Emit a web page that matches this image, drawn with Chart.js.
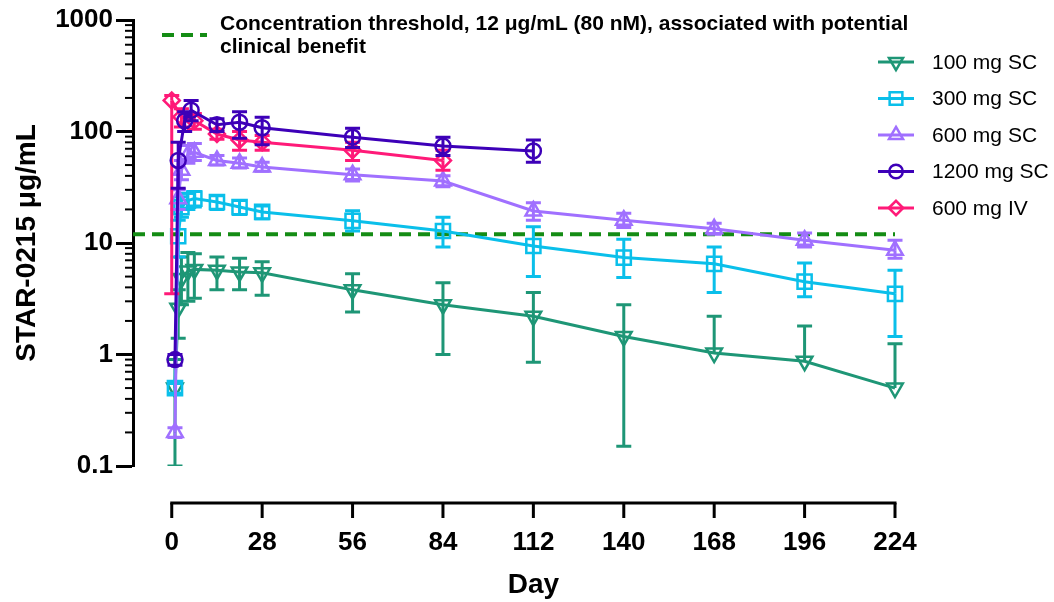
<!DOCTYPE html>
<html>
<head>
<meta charset="utf-8">
<script src="https://cdn.jsdelivr.net/npm/chart.js@4.4.1/dist/chart.umd.min.js"></script>
<style>
  html, body { margin: 0; padding: 0; background: #fff; }
  #wrap { width: 1054px; height: 602px; }
</style>
</head>
<body>
<div id="wrap"><canvas id="pkChart" width="1054" height="602"></canvas></div>
<script>
// x ticks (days) and y ticks (log)
const dayTicks = [0, 28, 56, 84, 112, 140, 168, 196, 224];
const concTicks = [0.1, 1, 10, 100, 1000];
const threshold = 12;

// 100 mg SC
const days100 = [1, 2, 3, 5, 7, 14, 21, 28, 56, 84, 112, 140, 168, 196, 224];
const mean100 = [0.5, 2.6, 4.8, 5.6, 5.8, 5.7, 5.5, 5.4, 3.8, 2.8, 2.2, 1.45, 1.03, 0.87, 0.5];
const low100  = [0.1, 1.4, 2.8, 3.0, 3.2, 3.8, 3.8, 3.4, 2.4, 1.0, 0.85, 0.15, null, null, null];
const high100 = [0.9, 3.8, 7.5, 8.2, 8.0, 7.5, 7.3, 6.8, 5.3, 4.4, 3.6, 2.8, 2.2, 1.8, 1.25];

// 300 mg SC
const days300 = [1, 2, 3, 5, 7, 14, 21, 28, 56, 84, 112, 140, 168, 196, 224];
const mean300 = [0.5, 11.5, 21, 24, 25, 23.3, 21, 19, 15.8, 12.8, 9.4, 7.4, 6.5, 4.5, 3.5];
const low300  = [0.45, 7.5, 17, 20, 21, 20, 18, 16.5, 12.8, 9.2, 5.0, 4.9, 3.6, 3.3, 1.45];
const high300 = [0.55, 16, 26, 28, 29, 26.5, 24, 21.5, 19.5, 17, 14, 10.8, 9.2, 6.6, 5.7];

// 600 mg SC
const days600 = [1, 2, 3, 5, 7, 14, 21, 28, 56, 84, 112, 140, 168, 196, 224];
const mean600 = [0.2, 25, 45, 62, 65, 55, 52, 48, 41, 36, 19.4, 16, 13.4, 10.6, 8.6];
const low600  = [0.18, 20, 37, 52, 55, 50, 47, 44, 36, 32, 16, 13.8, 12, 9.2, 7.3];
const high600 = [0.22, 30, 55, 75, 78, 61, 58, 53, 46, 40, 23, 18.5, 15, 12.3, 10.6];

// 1200 mg SC
const days1200 = [1, 2, 4, 6, 14, 21, 28, 56, 84, 112];
const mean1200 = [0.9, 55, 125, 155, 115, 121, 108, 89, 74, 67];
const low1200  = [0.8, 31, 100, 125, 100, 87, 76, 72, 61, 53];
const high1200 = [1.0, 80, 150, 190, 130, 150, 134, 107, 89, 84];

// 600 mg IV
const daysIV = [0, 3, 7, 14, 21, 28, 56, 84];
const meanIV = [190, 135, 125, 95, 84, 80, 68, 55];
const lowIV  = [3.5, 110, 105, 85, 68, 68, 55, 45];
const highIV = [210, 160, 145, 105, 100, 92, 80, 68];

function pts(xs, ys) {
  return xs.map((d, i) => ({ x: d, y: ys[i] }));
}

function series(label, color, style, rotation, radius, xs, ys, lo, hi, order) {
  return {
    label: label,
    data: pts(xs, ys),
    errLow: lo,
    errHigh: hi,
    borderColor: color,
    backgroundColor: 'rgba(0,0,0,0)',
    borderWidth: 3,
    pointStyle: style,
    pointRotation: rotation,
    pointRadius: radius,
    pointBorderWidth: 2.5,
    pointBackgroundColor: 'rgba(0,0,0,0)',
    pointBorderColor: color,
    tension: 0,
    clip: { left: 0, top: 12, right: 14, bottom: 12 },
    order: order
  };
}

const sets = [
  series('100 mg SC', '#1e9676', 'triangle', 180, 9, days100, mean100, low100, high100, 5),
  series('300 mg SC', '#0abfea', 'rect', 0, 10, days300, mean300, low300, high300, 4),
  series('600 mg SC', '#a070ff', 'triangle', 0, 9, days600, mean600, low600, high600, 3),
  series('1200 mg SC', '#3d00b8', 'circle', 0, 7.5, days1200, mean1200, low1200, high1200, 1),
  series('600 mg IV', '#ff1a78', 'rectRot', 0, 8, daysIV, meanIV, lowIV, highIV, 2)
];

const thresholdSet = {
  label: 'threshold',
  data: [{ x: -12, y: threshold }, { x: 224, y: threshold }],
  borderColor: '#148c14',
  borderWidth: 4,
  borderDash: [12, 7],
  pointRadius: 0,
  order: 6
};

// error bars, drawn under each dataset's own line and markers
const errorBars = {
  id: 'errorBars',
  beforeDatasetDraw(chart, args) {
    const ds = chart.data.datasets[args.index];
    if (!ds.errLow) return;
    const xs = chart.scales.x, ys = chart.scales.y;
    const ctx = chart.ctx;
    ctx.save();
    ctx.beginPath();
    ctx.rect(chart.chartArea.left, chart.chartArea.top - 10, chart.chartArea.width + 14, chart.chartArea.height + 10);
    ctx.clip();
    ctx.strokeStyle = ds.borderColor;
    ctx.lineWidth = 3;
    ds.data.forEach((p, i) => {
      const px = xs.getPixelForValue(p.x);
      const py = ys.getPixelForValue(p.y);
      [ds.errLow[i], ds.errHigh[i]].forEach(v => {
        if (v == null) return;
        const ey = ys.getPixelForValue(v);
        ctx.beginPath();
        ctx.moveTo(px, py);
        ctx.lineTo(px, ey);
        ctx.moveTo(px - 7.5, ey);
        ctx.lineTo(px + 7.5, ey);
        ctx.stroke();
      });
    });
    ctx.restore();
  }
};

// detached x axis, minor log ticks, legends and x title
const decorations = {
  id: 'decorations',
  afterDraw(chart) {
    const ctx = chart.ctx;
    const xs = chart.scales.x, ys = chart.scales.y;
    const area = chart.chartArea;
    ctx.save();
    ctx.strokeStyle = '#000';
    ctx.fillStyle = '#000';

    // x axis line offset below plot
    const axisY = 503;
    const x0 = xs.getPixelForValue(dayTicks[0]);
    const x1 = xs.getPixelForValue(dayTicks[dayTicks.length - 1]);
    ctx.lineWidth = 3;
    ctx.beginPath();
    ctx.moveTo(x0 - 1.5, axisY);
    ctx.lineTo(x1 + 1.5, axisY);
    ctx.stroke();
    dayTicks.forEach(d => {
      const px = xs.getPixelForValue(d);
      ctx.beginPath();
      ctx.moveTo(px, axisY);
      ctx.lineTo(px, axisY + 15);
      ctx.stroke();
    });

    // minor ticks on the log axis
    ctx.lineWidth = 2;
    for (let e = -1; e < 3; e++) {
      for (let k = 2; k <= 9; k++) {
        const py = ys.getPixelForValue(k * Math.pow(10, e));
        ctx.beginPath();
        ctx.moveTo(area.left - 8, py);
        ctx.lineTo(area.left, py);
        ctx.stroke();
      }
    }

    // x title
    ctx.font = 'bold 28px "Liberation Sans", Arial, sans-serif';
    ctx.textAlign = 'center';
    ctx.textBaseline = 'middle';
    ctx.fillText('Day', (x0 + x1) / 2, 585);

    // threshold legend
    ctx.strokeStyle = thresholdSet.borderColor;
    ctx.lineWidth = 4;
    ctx.setLineDash(thresholdSet.borderDash);
    ctx.beginPath();
    ctx.moveTo(162, 35);
    ctx.lineTo(207, 35);
    ctx.stroke();
    ctx.setLineDash([]);
    ctx.font = 'bold 21px "Liberation Sans", Arial, sans-serif';
    ctx.textAlign = 'left';
    ctx.fillStyle = '#000';
    ctx.fillText('Concentration threshold, 12 μg/mL (80 nM), associated with potential', 220, 24);
    ctx.fillText('clinical benefit', 220, 47);

    // series legend
    ctx.font = '21px "Liberation Sans", Arial, sans-serif';
    sets.forEach((ds, r) => {
      const y = 62 + r * 36.5;
      ctx.strokeStyle = ds.borderColor;
      ctx.lineWidth = 3;
      ctx.beginPath();
      ctx.moveTo(878, y);
      ctx.lineTo(914, y);
      ctx.stroke();
      ctx.lineWidth = 2.5;
      ctx.fillStyle = 'rgba(0,0,0,0)';
      Chart.helpers.drawPoint(ctx, {
        pointStyle: ds.pointStyle,
        rotation: ds.pointRotation,
        radius: ds.pointRadius * 0.9,
        borderWidth: 2.5
      }, 896, y);
      ctx.fillStyle = '#000';
      ctx.fillText(ds.label, 932, y + 1);
    });
    ctx.restore();
  }
};

new Chart(document.getElementById('pkChart'), {
  type: 'line',
  data: { datasets: sets.concat([thresholdSet]) },
  options: {
    responsive: false,
    animation: false,
    events: [],
    layout: { padding: { left: 0, right: 159, top: 20, bottom: 0 } },
    plugins: { legend: { display: false }, tooltip: { enabled: false } },
    scales: {
      x: {
        type: 'linear',
        min: -12,
        max: 224,
        grid: { display: false, drawTicks: false },
        border: { display: false },
        afterBuildTicks: s => { s.ticks = dayTicks.map(v => ({ value: v })); },
        afterFit: s => { s.height = 136; },
        ticks: {
          padding: 61,
          color: '#000',
          font: { family: '"Liberation Sans", Arial, sans-serif', size: 26, weight: 'bold' }
        }
      },
      y: {
        type: 'logarithmic',
        min: 0.1,
        max: 1000,
        grid: { drawOnChartArea: false, drawTicks: true, tickLength: 17, tickWidth: 3, tickColor: '#000' },
        border: { display: true, width: 3, color: '#000' },
        afterBuildTicks: s => { s.ticks = concTicks.map(v => ({ value: v })); },
        afterFit: s => { s.width = 133; },
        ticks: {
          padding: 3,
          color: '#000',
          font: { family: '"Liberation Sans", Arial, sans-serif', size: 26, weight: 'bold' },
          callback: v => String(v)
        },
        title: {
          display: true,
          text: 'STAR-0215 μg/mL',
          color: '#000',
          padding: { top: 10, bottom: 0 },
          font: { family: '"Liberation Sans", Arial, sans-serif', size: 28, weight: 'bold' }
        }
      }
    }
  },
  plugins: [errorBars, decorations]
});
</script>
</body>
</html>
